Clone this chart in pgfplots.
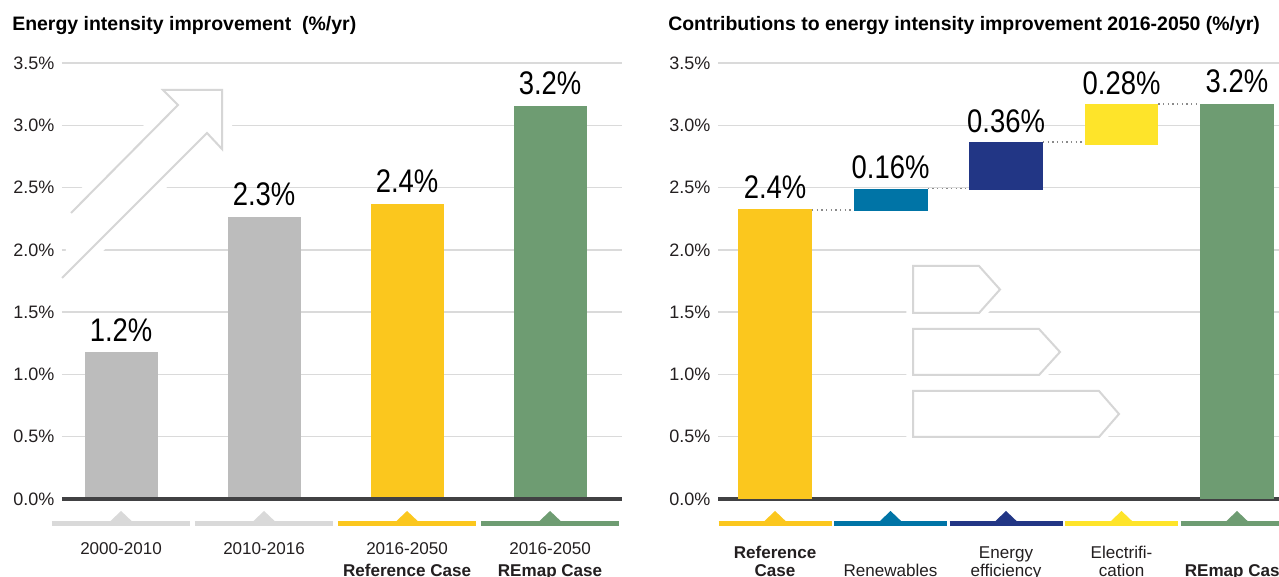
\documentclass[border=0pt]{standalone}
\usepackage{fontspec}
\setmainfont{Liberation Sans}
\newfontfamily\condfont[FakeStretch=0.84]{Liberation Sans}
\usepackage{pgfplots}
\pgfplotsset{compat=1.18}
\definecolor{barGray}{HTML}{BCBCBC}
\definecolor{refYellow}{HTML}{FBC71E}
\definecolor{remapGreen}{HTML}{6E9C72}
\definecolor{renBlue}{HTML}{0074A6}
\definecolor{eeNavy}{HTML}{223685}
\definecolor{elecYellow}{HTML}{FEE42A}
\definecolor{gridGray}{HTML}{DADADA}
\definecolor{lineGray}{HTML}{D9D9D9}
\definecolor{axisDark}{HTML}{414143}
\definecolor{decoGray}{HTML}{D6D6D6}
\definecolor{txt}{HTML}{231F20}
\definecolor{dotCol}{HTML}{8A8A8A}
\tikzset{barlabel/.style={anchor=base, inner sep=0pt, text=black, font=\condfont\fontsize{24.5}{26}\selectfont}}
\pgfplotsset{
  common/.style={
    scale only axis, height=327pt, ymin=0, ymax=3.5, clip=false,
    axis line style={draw=none}, major tick length=0pt,
    ytick={0,0.5,1,1.5,2,2.5,3,3.5},
    yticklabels={0.0\%,0.5\%,1.0\%,1.5\%,2.0\%,2.5\%,3.0\%,3.5\%},
    ymajorgrids, grid style={gridGray, line width=1pt},
    yticklabel style={anchor=east, inner sep=0pt, xshift=-5.5pt, text=txt, font=\fontsize{13.5}{16}\selectfont},
    xticklabel style={align=center, anchor=north, inner sep=0pt, text=txt},
  },
}
\begin{document}
\begin{tikzpicture}
\useasboundingbox (0,0) rectangle (959.25pt,-432.75pt);

\node[anchor=base west, inner sep=0pt, text=black, font=\bfseries\fontsize{14.6}{17}\selectfont] at (9pt,-23.25pt) {Energy intensity improvement\ \ (\%/yr)};
\node[anchor=base west, inner sep=0pt, text=black, font=\bfseries\fontsize{14.6}{17}\selectfont] at (501pt,-23.25pt) {Contributions to energy intensity improvement 2016-2050 (\%/yr)};

% ---------------- left chart ----------------
\begin{axis}[common,
  at={(46.5pt,-374.25pt)}, anchor=south west, width=420pt,
  xmin=-0.413, xmax=3.503,
  xtick={0,1,2,3},
  xticklabels={{\strut 2000-2010},{\strut 2010-2016},{\strut 2016-2050\\\textbf{Reference Case}},{\strut 2016-2050\\\textbf{REmap Case}}},
  xticklabel style={yshift=-29.7pt, font=\fontsize{12.8}{16.5}\selectfont},
  point meta=explicit symbolic,
  nodes near coords={\pgfplotspointmeta\%},
  nodes near coords style={barlabel, yshift=8.25pt},
]
\addplot[ybar, bar width=0.51, bar shift=0pt, fill=barGray, draw=none] coordinates {(0,1.18) [1.2]};
\addplot[ybar, bar width=0.51, bar shift=0pt, fill=barGray, draw=none] coordinates {(1,2.265) [2.3]};
\addplot[ybar, bar width=0.51, bar shift=0pt, fill=refYellow, draw=none] coordinates {(2,2.37) [2.4]};
\addplot[ybar, bar width=0.51, bar shift=0pt, fill=remapGreen, draw=none] coordinates {(3,3.155) [3.2]};
\draw[axisDark, line width=3.2pt] (rel axis cs:0,0) -- (rel axis cs:1,0);
% category markers
\draw[lineGray, line width=3.4pt] (axis cs:-0.483,-0.197) -- (axis cs:0.483,-0.197);
\fill[lineGray] (axis cs:-0.077,-0.18) -- (axis cs:0,-0.096) -- (axis cs:0.077,-0.18) -- cycle;
\draw[lineGray, line width=3.4pt] (axis cs:0.517,-0.197) -- (axis cs:1.483,-0.197);
\fill[lineGray] (axis cs:0.923,-0.18) -- (axis cs:1,-0.096) -- (axis cs:1.077,-0.18) -- cycle;
\draw[refYellow, line width=3.4pt] (axis cs:1.517,-0.197) -- (axis cs:2.483,-0.197);
\fill[refYellow] (axis cs:1.923,-0.18) -- (axis cs:2,-0.096) -- (axis cs:2.077,-0.18) -- cycle;
\draw[remapGreen, line width=3.4pt] (axis cs:2.517,-0.197) -- (axis cs:3.483,-0.197);
\fill[remapGreen] (axis cs:2.923,-0.18) -- (axis cs:3,-0.096) -- (axis cs:3.077,-0.18) -- cycle;
\end{axis}

% ---------------- right chart ----------------
\begin{axis}[common,
  at={(538.5pt,-374.25pt)}, anchor=south west, width=432.5625pt,
  xmin=-0.494, xmax=4.5,
  ybar stacked, bar width=0.64,
  xtick={0,1,2,3,4},
  xticklabels={{\strut\textbf{Reference}\\\textbf{Case}},{\strut\\Renewables},{\strut Energy\\efficiency},{\strut Electrifi-\\cation},{\strut\\\textbf{REmap Case}}},
  xticklabel style={yshift=-34.8pt, font=\fontsize{12.8}{13.5}\selectfont},
]
% invisible base of the floating bars
\addplot[draw=none, fill=none] coordinates {(0,0) (1,2.31) (2,2.48) (3,2.84) (4,0)};
\addplot[draw=none, fill=refYellow] coordinates {(0,2.33) (1,0) (2,0) (3,0) (4,0)};
\addplot[draw=none, fill=renBlue] coordinates {(0,0) (1,0.18) (2,0) (3,0) (4,0)};
\addplot[draw=none, fill=eeNavy] coordinates {(0,0) (1,0) (2,0.385) (3,0) (4,0)};
\addplot[draw=none, fill=elecYellow] coordinates {(0,0) (1,0) (2,0) (3,0.33) (4,0)};
\addplot[draw=none, fill=remapGreen] coordinates {(0,0) (1,0) (2,0) (3,0) (4,3.17)};
\draw[axisDark, line width=3.2pt] (rel axis cs:0,0) -- (rel axis cs:1,0);
% connectors
\draw[dotCol, line width=1pt, dash pattern=on 1pt off 2.5pt] (axis cs:0.32,2.32) -- (axis cs:0.68,2.32);
\draw[dotCol, line width=1pt, dash pattern=on 1pt off 2.5pt] (axis cs:1.32,2.49) -- (axis cs:1.68,2.49);
\draw[dotCol, line width=1pt, dash pattern=on 1pt off 2.5pt] (axis cs:2.32,2.865) -- (axis cs:2.68,2.865);
\draw[dotCol, line width=1pt, dash pattern=on 1pt off 2.5pt] (axis cs:3.32,3.17) -- (axis cs:3.68,3.17);
% labels
\node[barlabel, yshift=7.8pt] at (axis cs:0,2.33) {2.4\%};
\node[barlabel, yshift=7.8pt] at (axis cs:1,2.49) {0.16\%};
\node[barlabel, yshift=7.2pt] at (axis cs:2,2.865) {0.36\%};
\node[barlabel, yshift=7.2pt] at (axis cs:3,3.17) {0.28\%};
\node[barlabel, yshift=8.5pt] at (axis cs:4,3.17) {3.2\%};
% category markers
\draw[refYellow, line width=3.4pt] (axis cs:-0.489,-0.197) -- (axis cs:0.489,-0.197);
\fill[refYellow] (axis cs:-0.095,-0.18) -- (axis cs:0,-0.096) -- (axis cs:0.095,-0.18) -- cycle;
\draw[renBlue, line width=3.4pt] (axis cs:0.511,-0.197) -- (axis cs:1.489,-0.197);
\fill[renBlue] (axis cs:0.905,-0.18) -- (axis cs:1,-0.096) -- (axis cs:1.095,-0.18) -- cycle;
\draw[eeNavy, line width=3.4pt] (axis cs:1.511,-0.197) -- (axis cs:2.489,-0.197);
\fill[eeNavy] (axis cs:1.905,-0.18) -- (axis cs:2,-0.096) -- (axis cs:2.095,-0.18) -- cycle;
\draw[elecYellow, line width=3.4pt] (axis cs:2.511,-0.197) -- (axis cs:3.489,-0.197);
\fill[elecYellow] (axis cs:2.905,-0.18) -- (axis cs:3,-0.096) -- (axis cs:3.095,-0.18) -- cycle;
\draw[remapGreen, line width=3.4pt] (axis cs:3.511,-0.197) -- (axis cs:4.489,-0.197);
\fill[remapGreen] (axis cs:3.905,-0.18) -- (axis cs:4,-0.096) -- (axis cs:4.095,-0.18) -- cycle;
\end{axis}

% ---------------- decorative outline arrows ----------------
\begin{scope}[x=0.75pt, y=-0.75pt]
\draw[white, line width=15pt, line join=round, line cap=round] (71,213) -- (178,105) -- (163,90) -- (222,90) -- (222,149) -- (207,133) -- (62,278);
\fill[white] (71,213) -- (178,105) -- (163,90) -- (222,90) -- (222,149) -- (207,133) -- (62,278) -- cycle;
\draw[decoGray, line width=1.5pt] (71,213) -- (178,105) -- (163,90) -- (222,90) -- (222,149) -- (207,133) -- (62,278);
\foreach \t/\b/\f/\p in {266/313/979/1000, 329/375/1039/1060, 391/437/1099/1119}{
  \draw[white, line width=10pt, line join=round, fill=white] (913,\t) -- (\f,\t) -- (\p,{(\t+\b)/2}) -- (\f,\b) -- (913,\b) -- cycle;
  \draw[decoGray, line width=1.5pt] (913,\t) -- (\f,\t) -- (\p,{(\t+\b)/2}) -- (\f,\b) -- (913,\b) -- cycle;
}
\end{scope}
\end{tikzpicture}
\end{document}
